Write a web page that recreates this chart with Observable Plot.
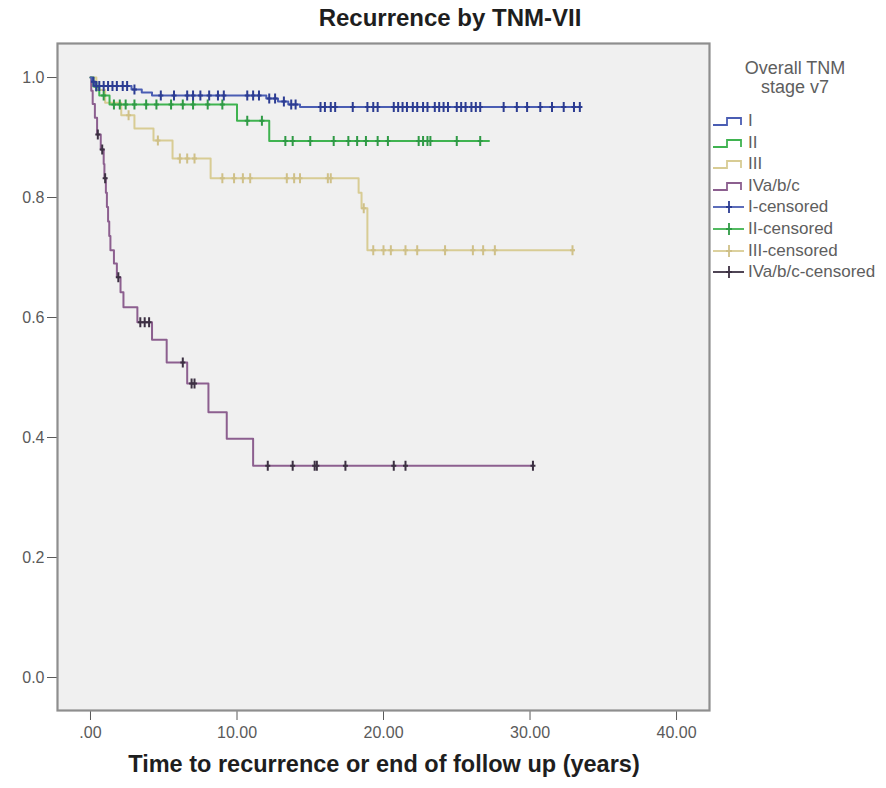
<!DOCTYPE html>
<html>
<head>
<meta charset="utf-8">
<script src="https://cdn.jsdelivr.net/npm/d3@7"></script>
<script src="https://cdn.jsdelivr.net/npm/@observablehq/plot@0.6"></script>
<style>
  html, body { margin: 0; padding: 0; background: #ffffff; }
  #wrap { position: relative; width: 886px; height: 788px; font-family: "Liberation Sans", Arial, sans-serif; }
  #chart { position: absolute; left: 0; top: 0; }
  #title { position: absolute; left: 0; top: 4px; width: 900px; text-align: center; font-weight: bold; font-size: 24px; color: #1e1e1e; }
  #xlabel { position: absolute; left: 0; top: 751px; width: 768px; text-align: center; font-weight: bold; font-size: 23.5px; color: #1e1e1e; }
  #legend { position: absolute; left: 712px; top: 59px; width: 174px; color: #5e5e5e; }
  #legend .lt { text-align: center; font-size: 18px; line-height: 19px; width: 170px; margin-left: -2px; }
  #legend .item { position: absolute; left: 0; height: 20px; display: flex; align-items: center; font-size: 17px; white-space: nowrap; }
  #legend .item svg { margin-right: 3px; }
</style>
</head>
<body>
<div id="wrap">
  <div id="chart"></div>
  <div id="title">Recurrence by TNM-VII</div>
  <div id="xlabel">Time to recurrence or end of follow up (years)</div>
  <div id="legend"></div>
</div>
<script>
// ---------- data ----------
const groups = ["I", "II", "III", "IVa/b/c"];
const legendTitle = ["Overall TNM", "stage v7"];
const lineColors = ["#4a5db3", "#3fb350", "#d8cc94", "#8c5f8f"];
const censorColors = ["#2c3c92", "#2f9a45", "#cfc088", "#3c3042"];

// Stage I
const timesI = [0, 0.1, 0.3, 2.8, 3.5, 4.2, 12.0, 12.8, 13.5, 14.3, 33.5];
const survI  = [1.0, 0.993, 0.986, 0.98, 0.975, 0.97, 0.965, 0.96, 0.955, 0.951, 0.951];
const censI  = [0.2, 0.4, 0.6, 0.9, 1.2, 1.5, 1.8, 2.2, 2.5, 3.0, 4.8, 5.7, 6.6, 7.0, 7.5, 8.1, 8.7, 9.1,
                10.7, 11.1, 11.5, 12.2, 12.6, 13.2, 13.7, 14.0, 15.7, 16.0, 16.4, 16.7, 17.9, 18.9, 19.3, 19.6,
                20.7, 21.0, 21.3, 21.6, 22.0, 22.3, 22.7, 23.0, 23.5, 23.8, 24.1, 24.4, 25.0, 25.3, 25.6, 26.0,
                26.3, 26.6, 28.2, 29.1, 29.8, 30.7, 31.5, 32.3, 33.0, 33.4];

// Stage II
const timesII = [0, 0.2, 0.6, 1.3, 10.0, 12.2, 27.2];
const survII  = [1.0, 0.985, 0.97, 0.955, 0.928, 0.894, 0.894];
const censII  = [0.4, 0.9, 1.6, 2.0, 2.4, 3.0, 3.8, 4.5, 5.5, 6.3, 7.0, 8.0, 9.0, 10.7, 11.7,
                 13.3, 13.8, 15.0, 16.6, 17.6, 18.2, 18.8, 19.6, 20.3, 22.4, 22.7, 23.0, 23.2, 25.0, 26.6];

// Stage III
const timesIII = [0, 0.4, 1.0, 2.1, 3.0, 4.3, 5.6, 8.2, 18.3, 18.5, 18.9, 33.0];
const survIII  = [1.0, 0.979, 0.958, 0.937, 0.915, 0.895, 0.865, 0.832, 0.808, 0.782, 0.712, 0.712];
const censIII  = [2.6, 4.6, 6.1, 6.6, 7.1, 9.0, 9.8, 10.4, 10.9, 13.4, 13.9, 14.3, 16.2, 16.4, 18.65,
                  19.3, 20.0, 20.5, 21.5, 22.3, 24.2, 26.1, 26.8, 27.6, 32.9];

// Stage IVa/b/c
const timesIV = [0, 0.05, 0.15, 0.3, 0.45, 0.7, 0.9, 0.95, 1.05, 1.12, 1.2, 1.28, 1.36, 1.6, 1.8,
                 2.05, 2.25, 3.2, 4.2, 5.2, 6.6, 8.05, 9.3, 11.1, 30.2];
const survIV  = [1.0, 0.978, 0.956, 0.933, 0.905, 0.88, 0.856, 0.832, 0.808, 0.784, 0.76, 0.736, 0.712, 0.69, 0.667,
                 0.642, 0.617, 0.592, 0.563, 0.525, 0.49, 0.442, 0.398, 0.353, 0.353];
const censIV  = [0.5, 0.8, 1.0, 1.9, 3.4, 3.7, 4.0, 6.3, 6.9, 7.1, 12.1, 13.8, 15.3, 15.45, 17.4, 20.7, 21.5, 30.2];

// axis ticks
const xTicks = [0, 10, 20, 30, 40];
const xTickLabels = [".00", "10.00", "20.00", "30.00", "40.00"];
const yTicks = [0, 0.2, 0.4, 0.6, 0.8, 1.0];
const yTickLabels = ["0.0", "0.2", "0.4", "0.6", "0.8", "1.0"];

// ---------- build tables ----------
const series = [
  {times: timesI, surv: survI, cens: censI},
  {times: timesII, surv: survII, cens: censII},
  {times: timesIII, surv: survIII, cens: censIII},
  {times: timesIV, surv: survIV, cens: censIV}
];
function survAt(times, surv, t) {
  let v = surv[0];
  for (let i = 0; i < times.length; i++) if (times[i] <= t) v = surv[i];
  return v;
}
const curveRows = series.map((s, gi) => s.times.map((t, i) => ({t, s: s.surv[i], g: groups[gi]})));
const censorRows = series.map((s, gi) => s.cens.map(t => ({t, s: survAt(s.times, s.surv, t), g: groups[gi]})));

// "+" censor marker with a taller vertical arm
const censorSymbol = {
  draw(context, size) {
    const r = Math.sqrt(size / Math.PI);
    context.moveTo(0, -r); context.lineTo(0, r);
    context.moveTo(-r * 0.5, 0); context.lineTo(r * 0.5, 0);
  }
};

const drawOrder = [3, 2, 1, 0];
const marks = [Plot.frame({fill: "#f0f0f0", stroke: "#8e8e8e", strokeWidth: 2.2})];
for (const gi of drawOrder) {
  marks.push(Plot.line(curveRows[gi], {x: "t", y: "s", curve: "step-after", stroke: lineColors[gi], strokeWidth: 2}));
}
for (const gi of drawOrder) {
  marks.push(Plot.dot(censorRows[gi], {x: "t", y: "s", symbol: censorSymbol, r: 5, fill: "none", stroke: censorColors[gi], strokeWidth: 2}));
}

const chart = Plot.plot({
  width: 886,
  height: 788,
  marginTop: 43,
  marginLeft: 57,
  marginRight: 177,
  marginBottom: 78,
  style: {background: "transparent", fontFamily: "'Liberation Sans', Arial, sans-serif", fontSize: "16px", color: "#5a5a5a"},
  x: {domain: [-2.252, 42.25], ticks: xTicks, tickFormat: d => xTickLabels[xTicks.indexOf(d)], tickSize: 10, tickPadding: 6, label: null},
  y: {domain: [-0.055, 1.0567], ticks: yTicks, tickFormat: d => yTickLabels[yTicks.indexOf(d)], tickSize: 10, tickPadding: 3, label: null},
  marks
});
document.getElementById("chart").appendChild(chart);

// ---------- legend ----------
const legend = document.getElementById("legend");
const lt = document.createElement("div");
lt.className = "lt";
lt.innerHTML = legendTitle.join("<br>");
legend.appendChild(lt);
const ns = "http://www.w3.org/2000/svg";
const legendItems = [
  ...groups.map((g, i) => ({label: g, color: lineColors[i], censored: false})),
  ...groups.map((g, i) => ({label: g + "-censored", color: i === 3 ? censorColors[i] : lineColors[i], tick: censorColors[i], censored: true}))
];
legendItems.forEach((it, k) => {
  const row = document.createElement("div");
  row.className = "item";
  row.style.top = (52 + k * 21.6) + "px";
  const svg = document.createElementNS(ns, "svg");
  svg.setAttribute("width", 33); svg.setAttribute("height", 20);
  const p = document.createElementNS(ns, "path");
  if (!it.censored) {
    p.setAttribute("d", "M1,14 L15,14 L15,7 L29,7 L29,14");
  } else {
    p.setAttribute("d", "M1,10 L32,10");
  }
  p.setAttribute("fill", "none"); p.setAttribute("stroke", it.color); p.setAttribute("stroke-width", 1.8);
  svg.appendChild(p);
  if (it.censored) {
    const t = document.createElementNS(ns, "path");
    t.setAttribute("d", "M17,4 L17,16 M14,10 L20,10");
    t.setAttribute("fill", "none"); t.setAttribute("stroke", it.tick); t.setAttribute("stroke-width", 1.8);
    svg.appendChild(t);
  }
  row.appendChild(svg);
  const span = document.createElement("span");
  span.textContent = it.label;
  row.appendChild(span);
  legend.appendChild(row);
});
</script>
</body>
</html>
